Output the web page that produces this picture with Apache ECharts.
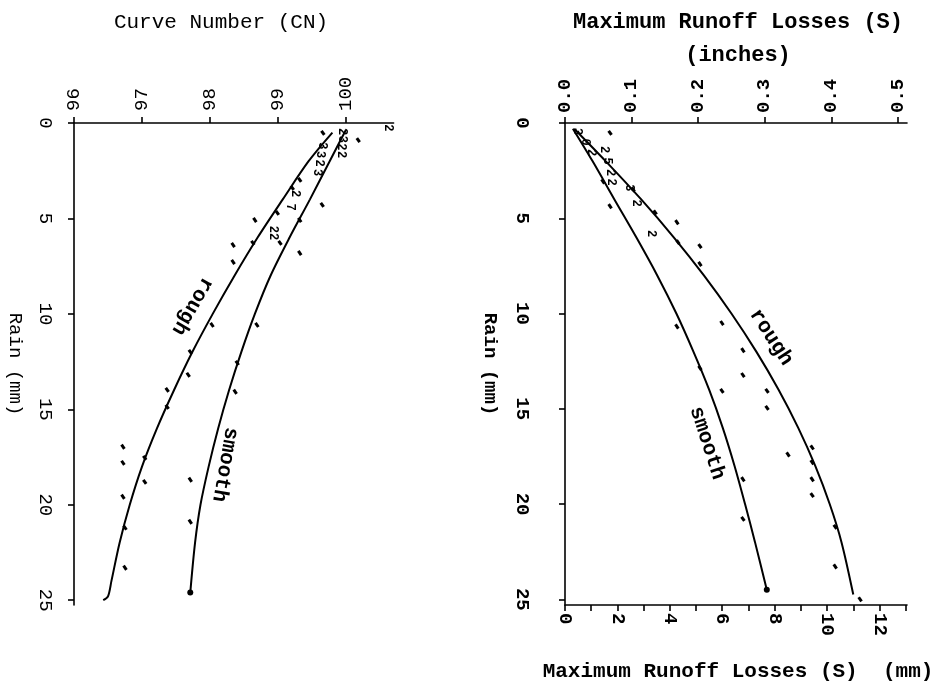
<!DOCTYPE html>
<html>
<head>
<meta charset="utf-8">
<script src="https://cdn.jsdelivr.net/npm/echarts@6/dist/echarts.min.js"></script>
<style>
  html, body { margin: 0; padding: 0; background: #fff; }
  #chart { width: 948px; height: 696px; }
</style>
</head>
<body>
<div id="chart"></div>
<script>
// Axis ticks
const rainTicks = [0, 5, 10, 15, 20, 25];
const cnTicks = [96, 97, 98, 99, 100];
const inchTicks = [0, 0.1, 0.2, 0.3, 0.4, 0.5];
const mmLabelTicks = [0, 2, 4, 6, 8, 10, 12];
const mmTicks = [0, 1, 2, 3, 4, 5, 6, 7, 8, 9, 10, 11, 12, 13];

// Curve Number panel: [CN, rain (mm)]
const cnRough = [[99.80, 0.5], [99.45, 2], [99.07, 4], [98.70, 6], [98.36, 8], [98.04, 10],
  [97.74, 12], [97.47, 14], [97.22, 16], [97.00, 18], [96.82, 20], [96.67, 22],
  [96.55, 24], [96.50, 24.8], [96.43, 25.0]];
const cnSmooth = [[100.0, 0.35], [99.76, 2], [99.47, 4], [99.17, 6], [98.89, 8], [98.66, 10],
  [98.46, 12], [98.28, 14], [98.12, 16], [97.98, 18], [97.86, 20], [97.78, 22], [97.71, 24.6]];
const cnObs = [[99.66, 0.52], [100.18, 0.9], [99.65, 4.29], [99.32, 6.81], [98.99, 4.71], [98.66, 5.08],
  [98.34, 6.39], [98.34, 7.28], [99.03, 6.28], [99.21, 3.40], [99.32, 2.98], [98.03, 10.58],
  [98.69, 10.58], [97.68, 13.19], [97.37, 13.98], [98.37, 14.08], [96.72, 16.96], [96.72, 17.80],
  [97.04, 18.80], [97.71, 18.69], [96.72, 19.58], [97.71, 20.89], [96.75, 23.30],
  [98.63, 6.28], [97.71, 11.99], [97.37, 14.87], [97.04, 17.54], [96.75, 21.2], [99.32, 5.08], [98.40, 12.57]];
// overlapping observations, plotted as their count
const cnCounts = [[100.62, 0.26, '2'],
  [99.94, 0.45, '2'], [99.94, 0.85, '3'], [99.93, 1.25, '2'], [99.92, 1.65, '2'],
  [99.64, 1.2, '3'], [99.62, 1.65, '3'], [99.60, 2.1, '2'], [99.58, 2.6, '3'],
  [99.25, 3.7, '2'], [99.18, 4.4, '7'], [98.93, 5.76, '22']];
const cnEnds = [[97.71, 24.6]];
const cnCurveNames = [['rough', 97.74, 9.6, -120], ['smooth', 98.22, 17.9, -100]];

// Maximum runoff losses panel: [S (mm), rain (mm)]
const sRough = [[0.35, 0.3], [1.55, 2], [2.9, 4], [4.15, 6], [5.3, 8], [6.35, 10], [7.3, 12],
  [8.15, 14], [8.9, 16], [9.55, 18], [10.1, 20], [10.55, 22], [11.0, 24.75]];
const sSmooth = [[0.3, 0.3], [1.05, 2], [1.88, 4], [2.72, 6], [3.52, 8], [4.25, 10], [4.9, 12],
  [5.5, 14], [6.02, 16], [6.47, 18], [6.87, 20], [7.25, 22], [7.7, 24.5]];
const sObs = [[1.72, 0.52], [1.72, 4.37], [4.27, 5.21], [5.15, 6.46], [4.27, 10.68], [5.99, 10.5],
  [6.79, 11.93], [6.79, 13.23], [5.99, 14.06], [7.71, 14.06], [7.71, 14.95], [9.43, 17.03],
  [8.51, 17.4], [9.43, 17.81], [9.43, 18.7], [9.43, 19.53], [6.79, 18.7], [6.79, 20.78],
  [10.31, 23.28], [11.26, 25.0],
  [2.6, 3.49], [3.44, 4.69], [4.31, 6.25], [5.15, 7.4], [1.45, 3.07], [5.15, 12.86], [10.31, 21.2]];
const sCounts = [[0.45, 0.45, '3'], [0.75, 1.0, '0'], [1.0, 1.55, '2'],
  [1.5, 1.4, '2'], [1.6, 2.0, '5'], [1.7, 2.6, '2'], [1.75, 3.1, '2'],
  [2.45, 3.4, '3'], [2.7, 4.2, '2'], [3.3, 5.8, '2']];
const sEnds = [[7.7, 24.5]];
const sCurveNames = [['rough', 7.86, 11.25, -57], ['smooth', 5.42, 16.8, -72]];

const MONO = '"Liberation Mono", "DejaVu Sans Mono", monospace';
const INK = '#000';

function valueAxis(extra) {
  return Object.assign({
    type: 'value',
    splitLine: { show: false },
    axisLine: { show: true, onZero: false, lineStyle: { color: INK, width: 1.6 } },
    axisTick: { show: true, inside: false, length: 6, lineStyle: { color: INK, width: 1.6 } },
    axisLabel: { rotate: -90, color: INK, fontFamily: MONO, fontSize: 19 }
  }, extra);
}

function withTicks(axis, tickVals, labelVals, labelExtra) {
  axis.axisTick.customValues = tickVals;
  axis.axisLabel = Object.assign({}, axis.axisLabel, { customValues: labelVals }, labelExtra || {});
  return axis;
}

function fitLine(data, xi, yi) {
  return {
    type: 'line', xAxisIndex: xi, yAxisIndex: yi, data: data,
    smooth: 0.3, symbol: 'none', silent: true,
    lineStyle: { color: INK, width: 2 }
  };
}

function obsSeries(data, xi, yi) {
  return {
    type: 'scatter', xAxisIndex: xi, yAxisIndex: yi, data: data, silent: true,
    symbol: 'rect', symbolSize: [3, 5], symbolRotate: 35,
    itemStyle: { color: INK, opacity: 1 }
  };
}

function endSeries(data, xi, yi) {
  return {
    type: 'scatter', xAxisIndex: xi, yAxisIndex: yi, data: data, silent: true,
    symbol: 'circle', symbolSize: 6, itemStyle: { color: INK, opacity: 1 }
  };
}

function countSeries(data, xi, yi) {
  return {
    type: 'scatter', xAxisIndex: xi, yAxisIndex: yi, silent: true,
    data: data.map(d => ({ value: [d[0], d[1]], name: d[2] })),
    symbolSize: 0, itemStyle: { color: INK, opacity: 1 },
    label: { show: true, position: 'inside', formatter: '{b}', rotate: -90,
      fontFamily: MONO, fontSize: 12, fontWeight: 'bold', color: INK, textBorderWidth: 0 }
  };
}

function nameSeries(data, xi, yi) {
  return {
    type: 'scatter', xAxisIndex: xi, yAxisIndex: yi, silent: true,
    symbolSize: 0, itemStyle: { color: INK, opacity: 1 },
    data: data.map(d => ({ value: [d[1], d[2]], name: d[0], label: { rotate: d[3] } })),
    label: { show: true, position: 'inside', formatter: '{b}',
      fontFamily: MONO, fontSize: 21, fontWeight: 'bold', color: INK, textBorderWidth: 0 }
  };
}

const chart = echarts.init(document.getElementById('chart'), null, { renderer: 'canvas' });

const option = {
  animation: false,
  backgroundColor: '#fff',
  grid: [
    { left: 74, top: 123, width: 319.6, height: 482 },
    { left: 565, top: 123, width: 342, height: 482 }
  ],
  xAxis: [
    withTicks(valueAxis({ gridIndex: 0, position: 'top', min: 96, max: 100.7 }),
      cnTicks, cnTicks, { margin: 12 }),
    withTicks(valueAxis({ gridIndex: 1, position: 'top', min: 0, max: 13.05 / 25.4 }),
      inchTicks, inchTicks, { margin: 10, fontWeight: 'bold', formatter: v => v.toFixed(1) }),
    withTicks(valueAxis({ gridIndex: 1, position: 'bottom', min: 0, max: 13.05 }),
      mmTicks, mmLabelTicks, { margin: 8, fontWeight: 'bold' })
  ],
  yAxis: [
    withTicks(valueAxis({ gridIndex: 0, position: 'left', inverse: true, min: 0, max: 25.25,
      name: 'Rain (mm)', nameLocation: 'middle', nameGap: 49, nameRotate: -90,
      nameTextStyle: { color: INK, fontFamily: MONO, fontSize: 19 } }),
      rainTicks, rainTicks, { margin: 19 }),
    withTicks(valueAxis({ gridIndex: 1, position: 'left', inverse: true, min: 0, max: 25.3,
      name: 'Rain (mm)', nameLocation: 'middle', nameGap: 66, nameRotate: -90,
      nameTextStyle: { color: INK, fontFamily: MONO, fontSize: 19, fontWeight: 'bold' } }),
      rainTicks, rainTicks, { margin: 34, fontWeight: 'bold' })
  ],
  graphic: [
    { type: 'text', x: 221, y: 22, silent: true,
      style: { text: 'Curve Number (CN)', fill: INK, font: '21px ' + MONO, textAlign: 'center', textVerticalAlign: 'middle' } },
    { type: 'text', x: 738, y: 22, silent: true,
      style: { text: 'Maximum Runoff Losses (S)', fill: INK, font: 'bold 22px ' + MONO, textAlign: 'center', textVerticalAlign: 'middle' } },
    { type: 'text', x: 738, y: 55, silent: true,
      style: { text: '(inches)', fill: INK, font: 'bold 22px ' + MONO, textAlign: 'center', textVerticalAlign: 'middle' } },
    { type: 'text', x: 738, y: 672, silent: true,
      style: { text: 'Maximum Runoff Losses (S)  (mm)', fill: INK, font: 'bold 21px ' + MONO, textAlign: 'center', textVerticalAlign: 'middle' } }
  ],
  series: [
    fitLine(cnRough, 0, 0),
    fitLine(cnSmooth, 0, 0),
    obsSeries(cnObs, 0, 0),
    endSeries(cnEnds, 0, 0),
    countSeries(cnCounts, 0, 0),
    nameSeries(cnCurveNames, 0, 0),
    fitLine(sRough, 2, 1),
    fitLine(sSmooth, 2, 1),
    obsSeries(sObs, 2, 1),
    endSeries(sEnds, 2, 1),
    countSeries(sCounts, 2, 1),
    nameSeries(sCurveNames, 2, 1)
  ]
};

chart.setOption(option);
</script>
</body>
</html>
